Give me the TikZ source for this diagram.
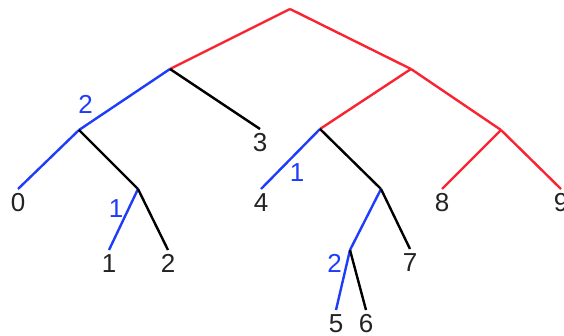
\documentclass[tikz,border=0pt]{standalone}
\usepackage{fontspec}
\setmainfont{Liberation Sans}
\usetikzlibrary{positioning}
\definecolor{treered}{RGB}{250,35,50}
\definecolor{treeblue}{RGB}{30,60,250}
\definecolor{leafgray}{RGB}{35,35,35}

\begin{document}
\begin{tikzpicture}[x=1pt, y=-1pt, line width=2.4pt,
  hot/.style={draw=treered},
  cold/.style={draw=treeblue},
  plain/.style={draw=black},
  leaf/.style={anchor=north, inner sep=0pt, text=leafgray, font=\fontsize{26}{30}\selectfont},
  weight/.style={inner sep=0pt, text=treeblue, font=\fontsize{26}{30}\selectfont}]

  \useasboundingbox (0,0) rectangle (564,336);

  % inner points of the tree
  \coordinate (R)  at (290,9);
  \coordinate (A)  at (170,69);
  \coordinate (B)  at (411,69);
  \coordinate (A1) at (79,130);
  \coordinate (C)  at (138,189);
  \coordinate (D)  at (320,129);
  \coordinate (E)  at (501,130);
  \coordinate (F)  at (381,189);
  \coordinate (G)  at (350,250);

  % leaf ends
  \coordinate (l0) at (18,189);
  \coordinate (l1) at (109,250);
  \coordinate (l2) at (168,250);
  \coordinate (l3) at (260,129);
  \coordinate (l4) at (261,189);
  \coordinate (l5) at (336,310);
  \coordinate (l6) at (366,310);
  \coordinate (l7) at (410,249);
  \coordinate (l8) at (442,189);
  \coordinate (l9) at (561,189);

  \path (R)  edge[hot]   (A)
             edge[hot]   (B)
        (A)  edge[cold]  (A1)
             edge[plain] (l3)
        (A1) edge[cold]  (l0)
             edge[plain] (C)
        (C)  edge[cold]  (l1)
             edge[plain] (l2)
        (B)  edge[hot]   (D)
             edge[hot]   (E)
        (D)  edge[cold]  (l4)
             edge[plain] (F)
        (F)  edge[cold]  (G)
             edge[plain] (l7)
        (G)  edge[cold]  (l5)
             edge[plain] (l6)
        (E)  edge[hot]   (l8)
             edge[hot]   (l9);

  \node[leaf, below=3pt of l0] (t0) {0};
  \node[leaf, below=3pt of l1] (t1) {1};
  \node[leaf, below=3pt of l2] (t2) {2};
  \node[leaf, below=3pt of l3] (t3) {3};
  \node[leaf, below=3pt of l4] (t4) {4};
  \node[leaf, below=3pt of l5] (t5) {5};
  \node[leaf, below=3pt of l6] (t6) {6};
  \node[leaf, below=3pt of l7] (t7) {7};
  \node[leaf, below=3pt of l8] (t8) {8};
  \node[leaf, below=3pt of l9] (t9) {9};

  \node[weight] (wA1) at (85.5,104.5) {2};
  \node[weight] (wC)  at (116,209)    {1};
  \node[weight] (wD)  at (297,173)    {1};
  \node[weight] (wG)  at (334.5,263.5) {2};

\end{tikzpicture}
\end{document}
